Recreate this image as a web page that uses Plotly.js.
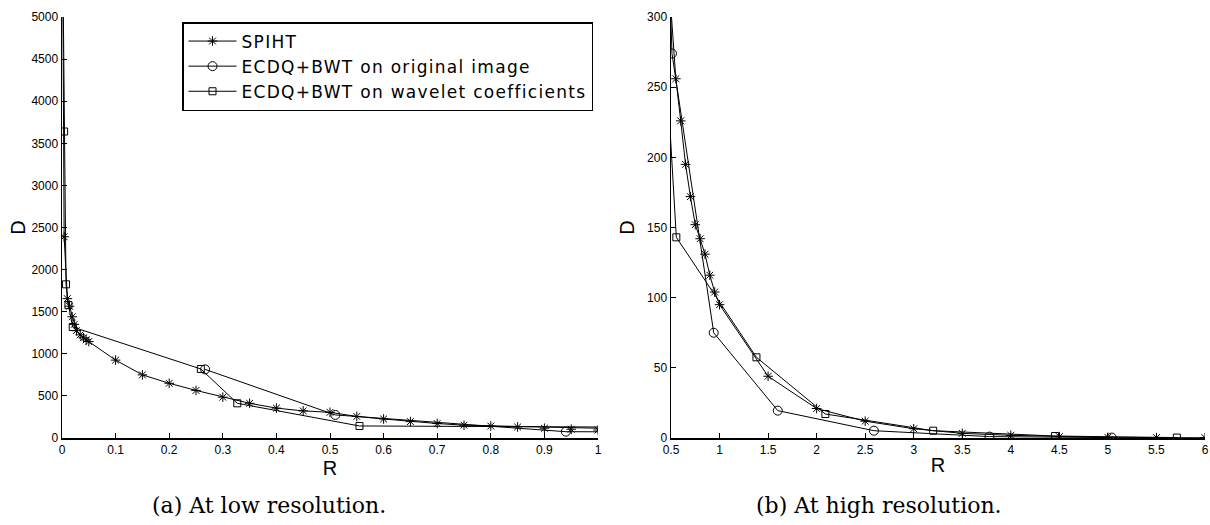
<!DOCTYPE html>
<html>
<head>
<meta charset="utf-8">
<script src="https://cdn.plot.ly/plotly-3.0.1.min.js"></script>
<style>
html,body{margin:0;padding:0;background:#fff;}
#chart{width:1210px;height:525px;}
.legendtext{letter-spacing:1.3px;}
</style>
</head>
<body>
<div id="chart"></div>
<script>
// Series data (R = rate, D = distortion)
const seriesNames = ["SPIHT", "ECDQ+BWT on original image", "ECDQ+BWT on wavelet coefficients"];

const spihtR = [0.001, 0.004, 0.01, 0.014, 0.019, 0.023, 0.027, 0.034, 0.04, 0.045, 0.05,
                0.1, 0.15, 0.2, 0.25, 0.3, 0.35, 0.4, 0.45, 0.5, 0.55, 0.6, 0.65, 0.7, 0.75,
                0.8, 0.85, 0.9, 0.95, 1.0, 1.5, 2.0, 2.5, 3.0, 3.5, 4.0, 4.5, 5.0, 5.5, 6.0];
const spihtD = [6000, 2390, 1655, 1565, 1440, 1350, 1275, 1225, 1190, 1165, 1145,
                925, 750, 650, 565, 485, 412, 355, 322, 305, 256, 226, 195, 172, 152,
                142, 131, 116, 104, 95, 44, 21, 12, 6.6, 3.3, 1.9, 1.0, 0.5, 0.3, 0.2];

const origR = [0.267, 0.51, 0.94, 1.6, 2.59, 3.78, 5.04];
const origD = [815, 274, 75, 19.5, 5.2, 1.0, 0.3];

const waveR = [0.001, 0.004, 0.0075, 0.012, 0.02, 0.259, 0.327, 0.555, 1.38, 2.09, 3.2, 4.456, 5.71];
const waveD = [6000, 3640, 1825, 1578, 1318, 820, 412, 143, 57.5, 17.1, 5.2, 1.4, 0.3];

const captions = ["(a) At low resolution.", "(b) At high resolution."];
const axisTitleX = "R";
const axisTitleY = "D";

const symbols = ["asterisk-open", "circle-open", "square-open"];
const sizes = [8, 9, 7];
const Rs = [spihtR, origR, waveR];
const Ds = [spihtD, origD, waveD];

const traces = [];
[["x", "y", true], ["x2", "y2", false]].forEach(([xa, ya, showLeg]) => {
  for (let i = 0; i < 3; i++) {
    traces.push({
      type: "scatter", mode: "lines+markers",
      x: Rs[i], y: Ds[i], xaxis: xa, yaxis: ya,
      name: seriesNames[i], legendgroup: "g" + i, showlegend: showLeg,
      line: {color: "black", width: 1},
      marker: {symbol: symbols[i], size: sizes[i], color: "black", line: {color: "black", width: 1}}
    });
  }
});

const tickFont = {family: "Liberation Sans, Arial, sans-serif", size: 12, color: "black"};
const titleFont = {family: "Liberation Sans, Arial, sans-serif", size: 20, color: "black"};
const axisCommon = {
  showline: true, linecolor: "black", linewidth: 1.5, mirror: false,
  ticks: "inside", ticklen: 5, tickwidth: 1, tickcolor: "black",
  showgrid: false, zeroline: false, tickfont: tickFont, automargin: false
};

const layout = {
  width: 1210, height: 525,
  margin: {l: 0, r: 0, t: 0, b: 0},
  paper_bgcolor: "white", plot_bgcolor: "white",
  showlegend: true,
  legend: {
    x: 593 / 1210, xanchor: "right", y: (525 - 22) / 525, yanchor: "top",
    bgcolor: "white", bordercolor: "black", borderwidth: 1.5,
    font: {family: "DejaVu Sans, sans-serif", size: 17, color: "black"},
    itemwidth: 48, tracegroupgap: 0
  },
  xaxis: Object.assign({}, axisCommon, {
    domain: [62 / 1210, 598 / 1210], anchor: "y", range: [0, 1], tick0: 0, dtick: 0.1,
    title: {text: axisTitleX, font: titleFont, standoff: 2}
  }),
  yaxis: Object.assign({}, axisCommon, {
    domain: [(525 - 438) / 525, (525 - 17) / 525], anchor: "x", range: [0, 5000], tick0: 0, dtick: 500,
    title: {text: axisTitleY, font: titleFont, standoff: 0}
  }),
  xaxis2: Object.assign({}, axisCommon, {
    domain: [671 / 1210, 1205 / 1210], anchor: "y2", range: [0.5, 6], tick0: 0.5, dtick: 0.5,
    title: {text: axisTitleX, font: titleFont, standoff: 2}
  }),
  yaxis2: Object.assign({}, axisCommon, {
    domain: [(525 - 438) / 525, (525 - 17) / 525], anchor: "x2", range: [0, 300], tick0: 0, dtick: 50,
    title: {text: axisTitleY, font: titleFont, standoff: 7}
  }),
  annotations: [
    {text: captions[0], xref: "paper", yref: "paper", x: 269 / 1210, y: (525 - 505) / 525,
     xanchor: "center", yanchor: "middle", showarrow: false,
     font: {family: "DejaVu Serif, serif", size: 22, color: "black"}},
    {text: captions[1], xref: "paper", yref: "paper", x: 879 / 1210, y: (525 - 505) / 525,
     xanchor: "center", yanchor: "middle", showarrow: false,
     font: {family: "DejaVu Serif, serif", size: 22, color: "black"}}
  ]
};

Plotly.newPlot("chart", traces, layout, {displayModeBar: false, staticPlot: true});
</script>
</body>
</html>
